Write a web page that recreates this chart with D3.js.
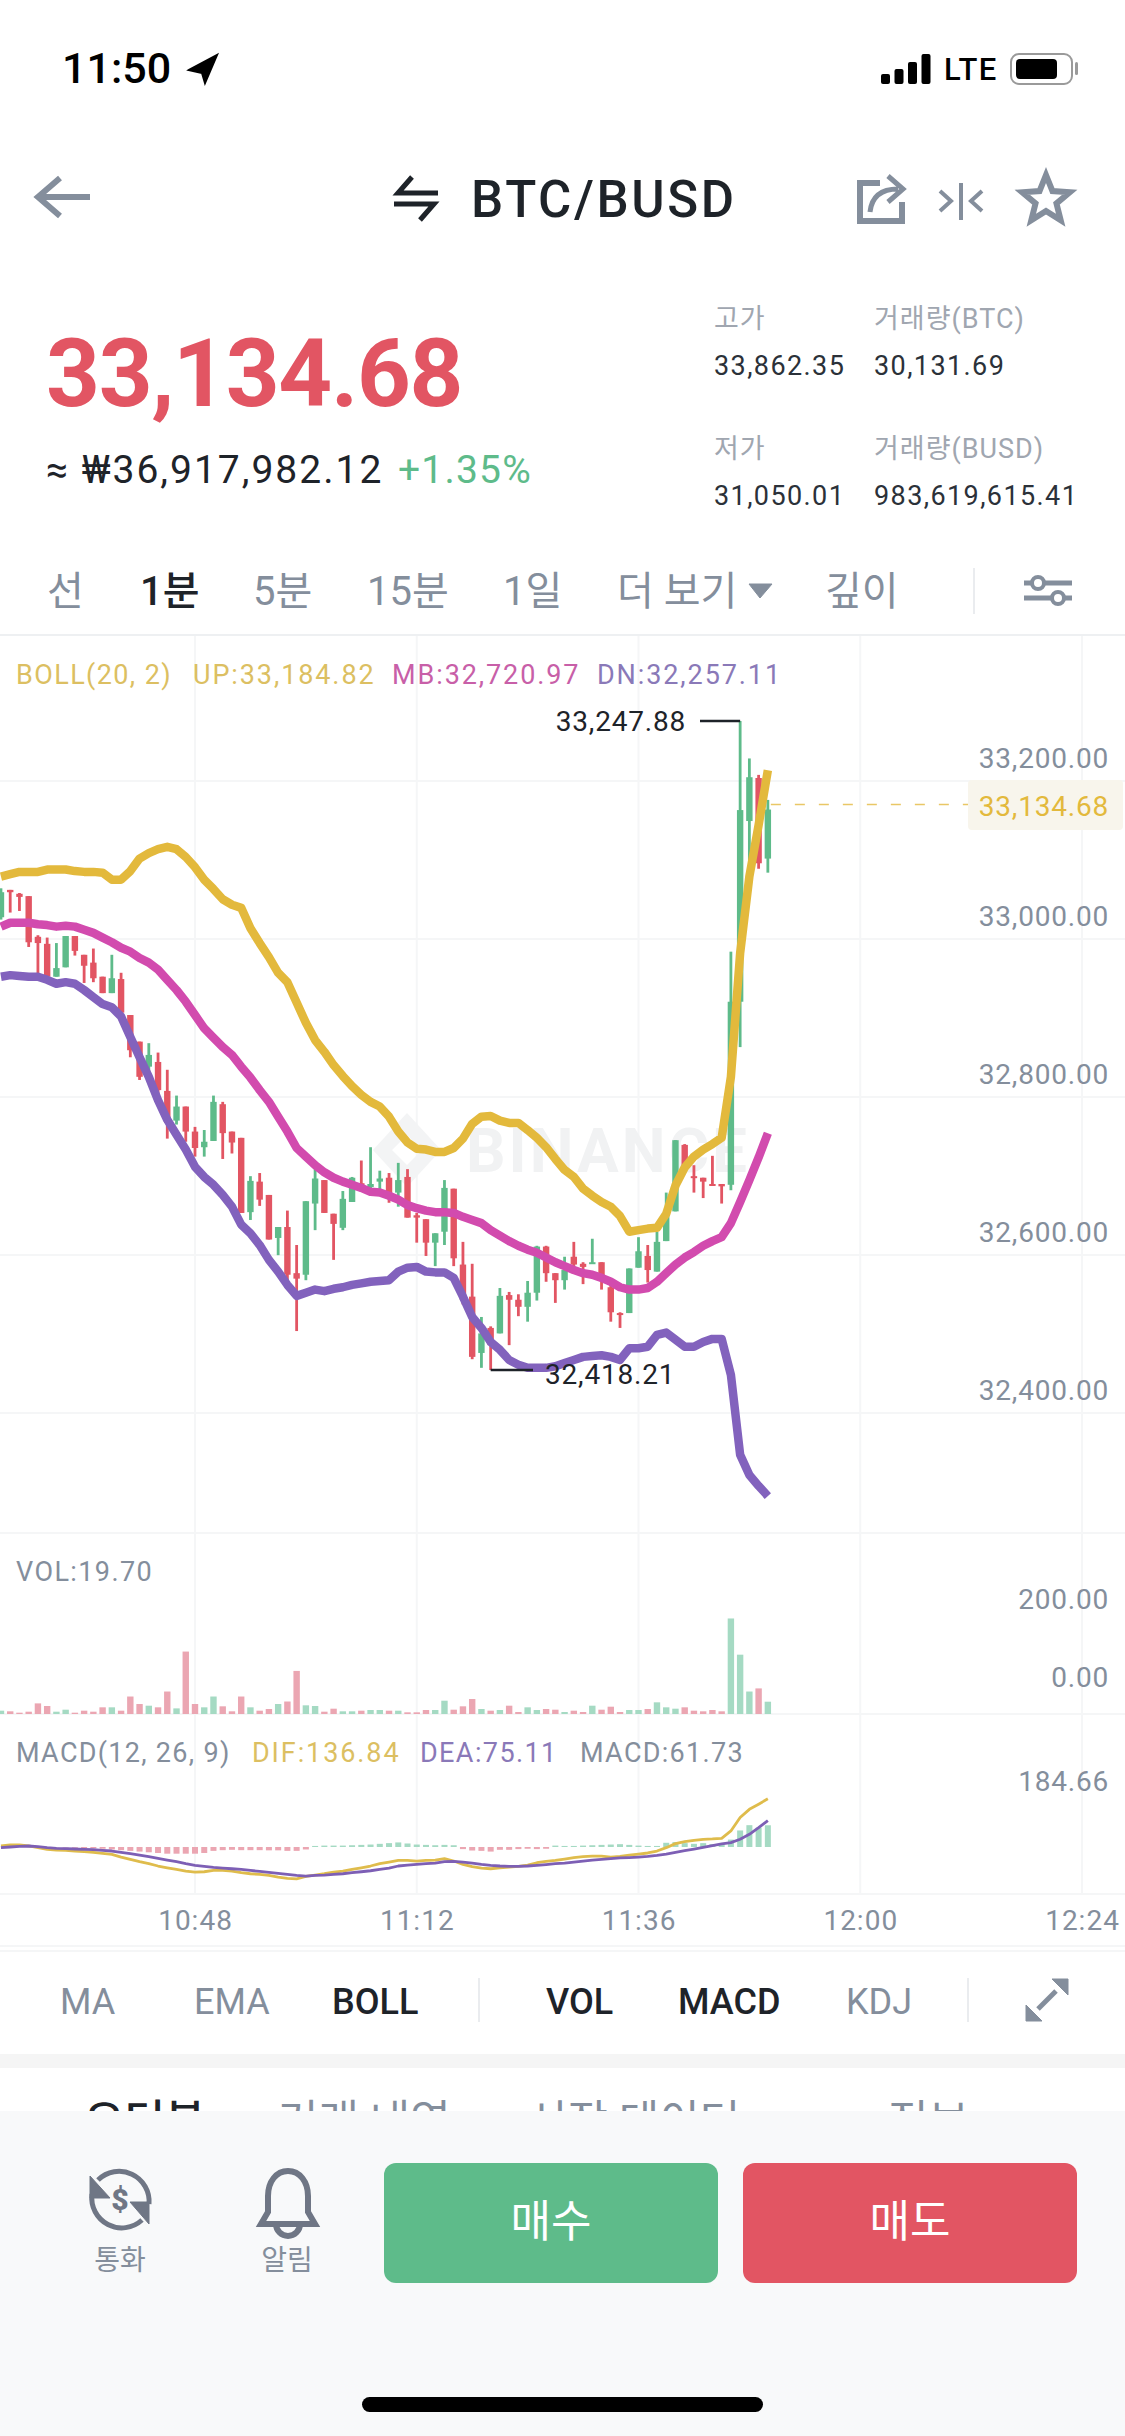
<!DOCTYPE html>
<html>
<head>
<meta charset="utf-8">
<style>
  html, body { margin: 0; padding: 0; background: #fff; }
  svg { display: block; }
  text { font-family: Roboto, "Noto Sans CJK KR", sans-serif; }
</style>
<script src="https://cdn.jsdelivr.net/npm/d3@7"></script>
</head>
<body>
<div id="chart"></div>
<script>
//Candles are one minute each, the first one is 10:27.
var firstMinute = 627;

var opens = [32997,33032,33027,33024,32972,32963,32921,32933,32973,32949,32939,32921,32900,32918,32872,32838,32806,32812,32775,32737,32755,32723,32703,32711,32758,32723,32715,32620,32659,32642,32587,32601,32542,32540,32631,32661,32618,32600,32633,32657,32652,32659,32664,32645,32665,32616,32611,32581,32595,32650,32553,32512,32440,32472,32465,32514,32508,32499,32517,32576,32542,32533,32563,32554,32555,32556,32524,32491,32491,32549,32564,32544,32583,32621,32706,32666,32664,32656,32656,32655,32889,33120,33175,33072];
var highs = [33034,33032,33028,33024,32974,32971,32964,32973,32973,32949,32957,32921,32949,32926,32872,32838,32836,32824,32802,32769,32755,32729,32725,32769,32761,32723,32715,32666,32670,32642,32601,32622,32578,32634,32677,32661,32618,32647,32665,32686,32703,32673,32670,32683,32675,32619,32611,32593,32661,32650,32582,32554,32486,32474,32523,32518,32515,32532,32577,32577,32542,32563,32582,32556,32586,32556,32533,32492,32548,32588,32578,32595,32645,32712,32707,32680,32664,32692,32656,32953,33247.88,33200,33179,33147];
var lows = [32994,33003,33005,32959,32921,32917,32921,32933,32948,32913,32914,32900,32900,32872,32818,32789,32799,32770,32714,32732,32710,32691,32691,32711,32688,32695,32619,32610,32628,32585,32565,32533,32468,32533,32597,32619,32559,32597,32633,32646,32648,32648,32632,32627,32613,32581,32564,32551,32578,32551,32502,32432,32421,32418.21,32465,32450,32487,32480,32507,32531,32504,32521,32544,32528,32555,32521,32480,32472,32491,32549,32530,32544,32583,32621,32674,32645,32638,32655,32631,32648,32831,33070,33059,33054];
var closes = [33029,33029,33023,32965,32964,32921,32932,32973,32954,32935,32919,32900,32919,32875,32827,32793,32821,32776,32734,32755,32723,32702,32710,32761,32721,32709,32619,32660,32636,32585,32601,32540,32535,32634,32663,32619,32605,32637,32664,32652,32656,32663,32642,32661,32613,32613,32581,32593,32651,32561,32508,32435,32465,32450,32513,32508,32499,32517,32576,32542,32533,32546,32553,32550,32556,32532,32492,32489,32548,32570,32546,32582,32619,32712,32677,32665,32659,32655,32653,32889,33134,33176,33066,33134.68];

//Bollinger bands
var bollUp = [33049,33052,33055,33055,33055,33058,33058,33058,33056,33055,33055,33054,33045,33045,33056,33072,33079,33084,33087,33084,33074,33061,33045,33033,33020,33013,33009,32983,32964,32946,32926,32914,32888,32862,32840,32825,32808,32794,32781,32770,32761,32755,32742,32723,32709,32701,32700,32697,32697,32702,32714,32733,32742,32743,32737,32734,32734,32725,32715,32703,32688,32674,32665,32650,32641,32633,32627,32615,32595,32597,32599,32600,32618,32654,32677,32691,32700,32707,32715,32793,32951,33049,33115,33184.82];
var bollMid = [32985,32990,32990,32990,32988,32987,32985,32986,32985,32981,32977,32971,32965,32958,32953,32945,32939,32930,32917,32904,32889,32872,32855,32843,32831,32821,32806,32792,32776,32761,32742,32723,32702,32691,32680,32671,32664,32659,32655,32651,32646,32645,32641,32636,32629,32625,32622,32620,32620,32619,32614,32610,32606,32597,32590,32583,32577,32572,32568,32562,32556,32551,32546,32542,32540,32536,32531,32524,32521,32521,32523,32531,32542,32553,32562,32569,32577,32583,32588,32606,32633,32661,32690,32720.97];
var bollDn = [32921,32923,32922,32921,32921,32917,32912,32914,32912,32904,32895,32886,32882,32870,32844,32818,32793,32763,32738,32719,32700,32678,32665,32655,32642,32627,32604,32593,32578,32559,32544,32527,32513,32517,32521,32519,32522,32524,32527,32529,32531,32532,32533,32544,32549,32550,32544,32543,32543,32536,32512,32486,32472,32454,32444,32431,32425,32421,32421,32421,32423,32427,32431,32435,32436,32437,32435,32431,32446,32446,32448,32463,32466,32457,32448,32448,32454,32458,32458,32412,32310,32284,32270,32257.11];

var volumes = [5.3,4.3,2.1,3.7,17,12.8,3.7,6.9,2.1,5.3,3.7,10.7,10.7,5.3,28,16,13.3,10.7,36,9,100,16,10.7,28,12.3,4.3,28,10.7,5.3,8,16,20,69,13.9,12.8,3.7,8.5,4.3,4.3,5.3,6.4,6.4,5.3,5.3,2.7,2.7,6.4,6.4,21.3,6.9,12.3,24,8,5.3,6.4,13.3,3.2,10.7,6.4,8,6.9,3.2,5.3,3.2,13.3,6.9,11.7,3.2,6.4,6.4,8,18.7,10.7,8.5,10.7,5.3,4.3,6.4,4.3,153,95,36,41,19.7];

var macdHist = [0.5,0.5,0.5,0.5,-1,-1,-1,-1.5,-2,-3,-4,-5,-7,-9,-11,-13,-15,-17,-19,-19,-19,-19,-17,-11,-9,-8,-9,-9,-9,-9.5,-9.5,-11,-11,-7,3,4,4,4,5,6,7,9,11,13,10,7,6,5,6,5,-6,-10,-11,-13,-8,-8,-6,-5,-6,-5,4,3,3,4,5,6,7,8,6,4,3,3,12,14,11,9,11,8,8,21,47,62,55,61.73];
var macdDif = [2.9,5.7,5.7,2.9,-1.9,-6.7,-8.6,-9.5,-11.4,-13.3,-15.2,-18,-20.9,-28.5,-35.2,-41.8,-47.5,-54,-59,-63.7,-68.4,-71.3,-70.3,-66.5,-66.5,-68.4,-73,-76,-78,-80.8,-85.5,-89.3,-90.3,-83.6,-79.8,-76,-71.3,-68.4,-63.7,-59,-54,-47.5,-42.8,-38,-38,-39.9,-38,-37,-33.3,-39.9,-49.4,-56,-60,-61.8,-59,-57,-55,-51.3,-44.7,-40.9,-38,-34.2,-30.4,-27.6,-25.7,-25.7,-28.5,-26.6,-22.8,-20,-17,-11.4,-1.9,9.5,15.2,19,21.9,22.8,24.7,45.6,83.6,107,121.6,136.84];
var macdDea = [-1.9,0,1.9,2.9,1,-1.9,-3.8,-4.8,-5.7,-6.7,-7.6,-9.5,-11.4,-15.2,-19,-22.8,-27.6,-32.3,-37,-41.8,-47.5,-52,-55,-58,-60,-61.8,-63.7,-66.5,-69.4,-72.2,-75,-78,-80.8,-82.7,-80.8,-79.8,-78,-76,-73,-70.3,-67.5,-63.7,-60,-54,-51.3,-49.4,-47.5,-45.6,-41.8,-40.9,-42.8,-45.6,-49.4,-52,-54,-55,-55,-54,-52,-50,-47.5,-45.6,-42.8,-39.9,-37,-35,-33,-31,-30,-28.5,-26.6,-23.8,-20,-15,-10.5,-5.7,-1,3.8,8.6,12.4,21.9,36,55,75.11];

//Axis ticks and labels
var priceTicks = [33200, 33000, 32800, 32600, 32400];
var volumeTicks = [200, 0];
var macdTicks = [184.66];
var timeTicks = [648, 672, 696, 720, 744];
var timeLabels = ['10:48', '11:12', '11:36', '12:00', '12:24'];

var priceHigh = 33247.88;
var priceLow = 32418.21;
var lastPrice = 33134.68;

var width = 1125, height = 2436;

var green = '#5ebb8a', red = '#e25563', grey = '#848e9c', dark = '#1e2329';
var gold = '#e3b93c', pink = '#d24bae', purple = '#8262bd';
var gridColor = '#f5f6f7';

var svg = d3.select('#chart').append('svg')
  .attr('width', width)
  .attr('height', height)
  .attr('viewBox', '0 0 ' + width + ' ' + height);

//Small helper for all the plain labels
function label(x, y, str, size, color, weight, anchor, spacing) {
  return svg.append('text')
    .attr('x', x)
    .attr('y', y)
    .attr('dy', '.35em')
    .attr('font-size', size)
    .attr('fill', color)
    .attr('font-weight', weight || 400)
    .attr('text-anchor', anchor || 'start')
    .attr('letter-spacing', spacing || 0)
    .text(str);
}

function icon(d, color, w, fill) {
  return svg.append('path')
    .attr('d', d)
    .attr('fill', fill || 'none')
    .attr('stroke', color)
    .attr('stroke-width', w);
}

//Scales
var x = d3.scaleLinear().domain([648, 744]).range([195, 1082]);
var yPrice = d3.scaleLinear().domain([priceLow, priceHigh]).range([1370, 721]);
var yTick = d3.scaleLinear().domain([33200, 32400]).range([759, 1391]);
var yVolume = d3.scaleLinear().domain([0, 19.7]).range([1714, 1701.7]);
var yVolumeTick = d3.scaleLinear().domain([0, 200]).range([1678, 1600]);
var yMacd = d3.scaleLinear().domain([0, 184.66]).range([1847, 1782]);

var minutes = closes.map(function(d, i) { return firstMinute + i; });

//Status bar
label(62, 68, '11:50', 43, '#000', 500);
icon('M189 70 L217 55 L205 83 L202 73 Z', '#000', 2, '#000');
[10, 15, 22, 30].forEach(function(h, i) {
  svg.append('rect').attr('x', 881 + i * 13.5).attr('y', 84 - h).attr('width', 9).attr('height', h).attr('rx', 2).attr('fill', '#000');
});
label(944, 69, 'LTE', 31, '#000', 500, 'start', 1.5);
svg.append('rect').attr('x', 1011).attr('y', 54).attr('width', 61).attr('height', 30).attr('rx', 8).attr('fill', 'none').attr('stroke', '#9a9a9a').attr('stroke-width', 2);
svg.append('rect').attr('x', 1016).attr('y', 59).attr('width', 41).attr('height', 20).attr('rx', 4).attr('fill', '#000');
svg.append('rect').attr('x', 1075).attr('y', 62).attr('width', 3).attr('height', 13).attr('rx', 1.5).attr('fill', '#9a9a9a');

//Header
icon('M90 197 H40 M60 178 L38 197 L60 216', grey, 6);
icon('M438 193 H398 L412 177 M394 204 H434 L420 220', dark, 5);
label(471, 199, 'BTC/BUSD', 51, dark, 500, 'start', 2.6);
icon('M880 183 H860 V221 H902 V202', grey, 6);
icon('M870 212 C872 194 884 189 898 189 M888 176 L903 189 L888 202', grey, 5);
icon('M961 183 V220 M940 191 L951 201 L940 211 M982 191 L971 201 L982 211', grey, 4);
var starPoints = d3.range(10).map(function(i) {
  var r = i % 2 ? 11 : 25, a = i * Math.PI / 5;
  return [r * Math.sin(a) + 1046, -r * Math.cos(a) + 200];
});
icon(d3.line()(starPoints) + 'Z', grey, 6);

//Price block
label(46, 373, '33,134.68', 94, red, 700, 'start', -1.3);
label(46, 469, '≈ ₩36,917,982.12', 39, dark, 400, 'start', 2);
label(398, 469, '+1.35%', 39, green, 400, 'start', 1.2);

label(714, 319, '고가', 27, '#a0a6b0', 400, 'start', 1);
label(874, 319, '거래량(BTC)', 27, '#a0a6b0', 400, 'start', 1);
label(714, 366, '33,862.35', 27, '#2b3139', 400, 'start', 1.4);
label(874, 366, '30,131.69', 27, '#2b3139', 400, 'start', 1.4);
label(714, 449, '저가', 27, '#a0a6b0', 400, 'start', 1);
label(874, 449, '거래량(BUSD)', 27, '#a0a6b0', 400, 'start', 1);
label(714, 496, '31,050.01', 27, '#2b3139', 400, 'start', 1.4);
label(874, 496, '983,619,615.41', 27, '#2b3139', 400, 'start', 1.4);

//Interval tabs
label(47, 591, '선', 40, grey);
label(140, 591, '1분', 40, dark, 500);
label(253, 591, '5분', 40, grey);
label(367, 591, '15분', 40, grey);
label(503, 591, '1일', 40, grey);
label(617, 591, '더 보기', 40, grey);
icon('M749 584 H772 L760 598 Z', grey, 1, grey);
label(825, 591, '깊이', 40, grey);
svg.append('rect').attr('x', 973).attr('y', 568).attr('width', 2).attr('height', 46).attr('fill', '#eaecef');
icon('M1024 583 H1072 M1024 598 H1072', grey, 5);
svg.append('circle').attr('cx', 1038).attr('cy', 583).attr('r', 6).attr('fill', '#fff').attr('stroke', grey).attr('stroke-width', 4);
svg.append('circle').attr('cx', 1058).attr('cy', 598).attr('r', 6).attr('fill', '#fff').attr('stroke', grey).attr('stroke-width', 4);
svg.append('rect').attr('x', 0).attr('y', 634).attr('width', width).attr('height', 2).attr('fill', '#eef0f2');

//Grid
var grid = svg.append('g').attr('stroke', gridColor).attr('stroke-width', 2);
priceTicks.forEach(function(t) {
  grid.append('line').attr('x1', 0).attr('x2', width).attr('y1', yTick(t) + 22).attr('y2', yTick(t) + 22);
});
timeTicks.forEach(function(t) {
  grid.append('line').attr('x1', x(t)).attr('x2', x(t)).attr('y1', 636).attr('y2', 1894);
});
[1533, 1714, 1894, 1946, 1951].forEach(function(y) {
  grid.append('line').attr('x1', 0).attr('x2', width).attr('y1', y).attr('y2', y);
});

//Watermark
svg.append('path')
  .attr('d', 'M407 1113 L441 1150 L407 1187 L373 1150 Z M407 1135 L392 1150 L407 1165 L422 1150 Z')
  .attr('fill', '#f3f4f5')
  .attr('fill-rule', 'evenodd');
label(466, 1150, 'BINANCE', 62, '#f1f2f3', 700, 'start', 3);

//Candles
var candle = svg.append('g').selectAll('g')
  .data(minutes)
  .enter()
  .append('g')
  .attr('fill', function(d, i) { return closes[i] >= opens[i] ? green : red; });

candle.append('rect')
  .attr('x', function(d) { return x(d) - 1.4; })
  .attr('width', 2.8)
  .attr('y', function(d, i) { return yPrice(highs[i]); })
  .attr('height', function(d, i) { return yPrice(lows[i]) - yPrice(highs[i]); });

candle.append('rect')
  .attr('x', function(d) { return x(d) - 3.2; })
  .attr('width', 6.4)
  .attr('y', function(d, i) { return yPrice(Math.max(opens[i], closes[i])); })
  .attr('height', function(d, i) { return Math.max(2, Math.abs(yPrice(opens[i]) - yPrice(closes[i]))); });

//Bollinger lines
function drawLine(values, scale, color, w) {
  var line = d3.line()
    .x(function(d, i) { return x(minutes[i]); })
    .y(function(d) { return scale(d); });
  svg.append('path')
    .attr('d', line(values))
    .attr('fill', 'none')
    .attr('stroke', color)
    .attr('stroke-width', w)
    .attr('stroke-linejoin', 'round');
}

drawLine(bollDn, yPrice, purple, 8.5);
drawLine(bollMid, yPrice, pink, 8.5);
drawLine(bollUp, yPrice, gold, 8.5);

//High and low markers
svg.append('line').attr('x1', 700).attr('x2', x(minutes[80])).attr('y1', yPrice(priceHigh)).attr('y2', yPrice(priceHigh)).attr('stroke', dark).attr('stroke-width', 2.5);
label(686, yPrice(priceHigh), d3.format(',.2f')(priceHigh), 28, dark, 400, 'end', 0.8);
svg.append('line').attr('x1', x(minutes[53])).attr('x2', 533).attr('y1', yPrice(priceLow)).attr('y2', yPrice(priceLow)).attr('stroke', dark).attr('stroke-width', 2.5);
label(545, yPrice(priceLow) + 4, d3.format(',.2f')(priceLow), 28, dark, 400, 'start', 0.8);

//Last price
svg.append('line')
  .attr('x1', x(minutes[83]) + 3).attr('x2', 968)
  .attr('y1', yPrice(lastPrice) - 5).attr('y2', yPrice(lastPrice) - 5)
  .attr('stroke', '#e9c766').attr('stroke-width', 1.5).attr('stroke-dasharray', '10 14');
svg.append('rect').attr('x', 968).attr('y', 780).attr('width', 155).attr('height', 50).attr('rx', 4).attr('fill', '#f8f5ec');
label(1109, yPrice(lastPrice) - 3, d3.format(',.2f')(lastPrice), 28, gold, 400, 'end', 0.8);

//Value axes
function tickAxis(scale, ticks, fmt) {
  var g = svg.append('g')
    .attr('transform', 'translate(1109,0)')
    .call(d3.axisLeft(scale).tickValues(ticks).tickSize(0).tickPadding(0).tickFormat(fmt));
  g.select('.domain').remove();
  g.selectAll('text')
    .attr('font-size', 28)
    .attr('fill', grey)
    .attr('letter-spacing', 0.8)
    .style('font-family', 'Roboto');
}
tickAxis(yTick, priceTicks, d3.format(',.2f'));
tickAxis(yVolumeTick, volumeTicks, d3.format('.2f'));
tickAxis(yMacd, macdTicks, d3.format('.2f'));

//Time axis
var timeAxis = svg.append('g')
  .attr('transform', 'translate(0,1910)')
  .call(d3.axisBottom(x).tickValues(timeTicks).tickSize(0).tickPadding(0).tickFormat(function(d, i) {
    return timeLabels[i];
  }));
timeAxis.select('.domain').remove();
timeAxis.selectAll('text')
  .attr('font-size', 28)
  .attr('fill', grey)
  .attr('letter-spacing', 1)
  .style('font-family', 'Roboto');

//Bollinger legend
label(16, 675, 'BOLL(20, 2)', 27, '#dcbf62', 400, 'start', 1.4);
label(193, 675, 'UP:33,184.82', 27, '#dcbf62', 400, 'start', 1.9);
label(392, 675, 'MB:32,720.97', 27, '#c85fa8', 400, 'start', 1.9);
label(597, 675, 'DN:32,257.11', 27, '#8a79b8', 400, 'start', 1.9);

//Volume
label(16, 1572, 'VOL:19.70', 27, grey, 400, 'start', 1.4);
svg.append('g').selectAll('rect')
  .data(volumes)
  .enter()
  .append('rect')
  .attr('x', function(d, i) { return x(minutes[i]) - 3.2; })
  .attr('width', 6.4)
  .attr('y', function(d) { return yVolume(d); })
  .attr('height', function(d) { return yVolume(0) - yVolume(d); })
  .attr('fill', function(d, i) { return closes[i] >= opens[i] ? '#a5dac3' : '#eba6b2'; });

//MACD
label(16, 1753, 'MACD(12, 26, 9)', 27, grey, 400, 'start', 1.3);
label(252, 1753, 'DIF:136.84', 27, '#dcbf62', 400, 'start', 1.9);
label(420, 1753, 'DEA:75.11', 27, '#8a79b8', 400, 'start', 1.4);
label(580, 1753, 'MACD:61.73', 27, grey, 400, 'start', 1.3);
svg.append('g').selectAll('rect')
  .data(macdHist)
  .enter()
  .append('rect')
  .attr('x', function(d, i) { return x(minutes[i]) - 3; })
  .attr('width', 6)
  .attr('y', function(d) { return Math.min(yMacd(0), yMacd(d)); })
  .attr('height', function(d) { return Math.abs(yMacd(d) - yMacd(0)); })
  .attr('fill', function(d) { return d >= 0 ? '#a5dac3' : '#eba6b2'; });
drawLine(macdDif, yMacd, '#dfbc4c', 2.8);
drawLine(macdDea, yMacd, '#7d5fb5', 2.8);

//Indicator tabs
label(60, 2001, 'MA', 36, grey);
label(194, 2001, 'EMA', 36, grey);
label(332, 2001, 'BOLL', 36, dark, 500);
svg.append('rect').attr('x', 478).attr('y', 1978).attr('width', 2).attr('height', 44).attr('fill', '#eaecef');
label(546, 2001, 'VOL', 36, dark, 500);
label(678, 2001, 'MACD', 36, dark, 500);
label(846, 2001, 'KDJ', 36, grey);
svg.append('rect').attr('x', 967).attr('y', 1978).attr('width', 2).attr('height', 44).attr('fill', '#eaecef');
icon('M1052 1979 H1068 V1995 Z M1026 2005 V2021 H1042 Z', grey, 1, grey);
icon('M1056 1991 L1038 2009', grey, 5);

svg.append('rect').attr('x', 0).attr('y', 2054).attr('width', width).attr('height', 14).attr('fill', '#f5f5f5');

//Lower tabs, mostly hidden by the bottom bar
label(84, 2122, '오더북', 44, dark, 500);
label(278, 2122, '거래 내역', 44, grey);
label(527, 2122, '시장 데이터', 44, grey);
label(888, 2122, '정보', 44, grey);

//Bottom bar
svg.append('rect').attr('x', 0).attr('y', 2111).attr('width', width).attr('height', 325).attr('fill', '#f8f9fa');
svg.append('rect').attr('x', 384).attr('y', 2163).attr('width', 334).attr('height', 120).attr('rx', 12).attr('fill', green);
svg.append('rect').attr('x', 743).attr('y', 2163).attr('width', 334).attr('height', 120).attr('rx', 12).attr('fill', red);
label(551, 2222, '매수', 44, '#fff', 400, 'middle');
label(910, 2222, '매도', 44, '#fff', 400, 'middle');

icon('M98 2180 A30 30 0 0 1 149 2204 M142 2220 A30 30 0 0 1 92 2194', '#6f7685', 5);
icon('M90 2176 V2198 H110 Z M149 2224 V2202 H130 Z', '#6f7685', 1, '#6f7685');
label(120, 2199, '$', 30, '#6f7685', 900, 'middle');
label(120, 2260, '통화', 28, grey, 400, 'middle');

icon('M288 2171 C276 2171 268 2182 268 2196 V2212 L261 2224 H315 L308 2212 V2196 C308 2182 300 2171 288 2171 Z', '#6f7685', 6);
icon('M276 2224 A12 12 0 0 0 300 2224', '#6f7685', 6);
label(287, 2260, '알림', 28, grey, 400, 'middle');

svg.append('rect').attr('x', 362).attr('y', 2397).attr('width', 401).attr('height', 15).attr('rx', 7.5).attr('fill', '#000');
</script>
</body>
</html>
